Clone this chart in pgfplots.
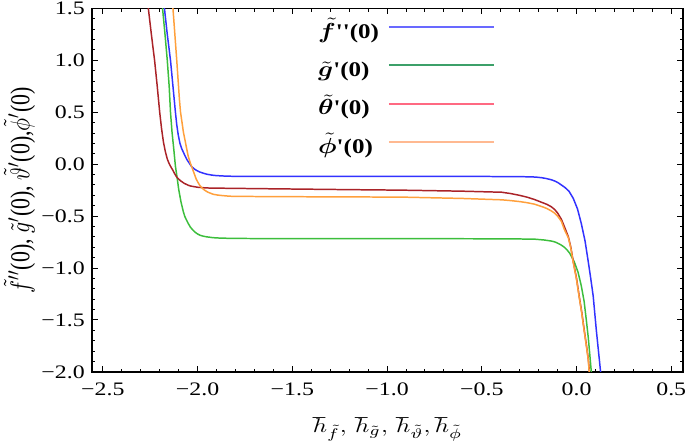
\documentclass[border=0pt]{standalone}
\usepackage{pgfplots}
\pgfplotsset{compat=1.18}
\usepackage{graphicx}
\usepackage{fontspec}
\setmainfont{Liberation Serif}
\usepackage{bm}
\definecolor{cblue}{RGB}{50,50,255}
\definecolor{cgreen}{RGB}{60,190,60}
\definecolor{cred}{RGB}{170,35,40}
\definecolor{corange}{RGB}{255,160,60}
\definecolor{lblue}{RGB}{105,105,255}
\definecolor{lgreen}{RGB}{60,160,105}
\definecolor{lred}{RGB}{255,105,130}
\definecolor{lorange}{RGB}{255,185,145}
\newcommand{\sx}[1]{\scalebox{1.25}[1]{#1}}
\newcommand{\slg}[1]{\scalebox{1.2}[1]{#1}}
\begin{document}
\begin{tikzpicture}
\begin{axis}[
  scale only axis, width=297.5pt, height=183pt,
  xmin=-2.557, xmax=0.562, ymin=-2, ymax=1.5,
  xtick={-2.5,-2,-1.5,-1,-0.5,0,0.5},
  xticklabels={\sx{−2.5},\sx{−2.0},\sx{−1.5},\sx{−1.0},\sx{−0.5},\sx{0.0},\sx{0.5}},
  ytick={-2,-1.5,-1,-0.5,0,0.5,1,1.5},
  yticklabels={\sx{−2.0},\sx{−1.5},\sx{−1.0},\sx{−0.5},\sx{0.0},\sx{0.5},\sx{1.0},\sx{1.5}},
  minor tick num=4,
  xtick pos=both, ytick pos=both,
  xticklabel pos=bottom, yticklabel pos=left,
  tick align=inside,
  major tick length=3pt, minor tick length=1.6pt,
  tick style={black, line width=0.5pt},
  axis line style={black, line width=0.6pt},
  tick label style={font=\fontsize{9.6}{10}\selectfont},
  xticklabel style={yshift=-2pt},
  yticklabel style={inner sep=1pt, xshift=-2.5pt},
  xlabel={\scalebox{1.25}[1]{$\hbar_{\tilde{f}},\, \hbar_{\tilde{g}},\, \hbar_{\tilde{\vartheta}},\hbar_{\tilde{\phi}}$}},
  ylabel={\scalebox{1}[1.25]{$\tilde{f}''$(0), $\tilde{g}'$(0), $\tilde{\vartheta}'$(0),$\tilde{\phi}'$(0)}},
  xlabel style={font=\fontsize{10}{11}\selectfont, yshift=-4pt},
  ylabel style={font=\fontsize{11}{12}\selectfont, inner sep=2pt},
  every axis plot/.append style={line join=round},
  legend image code/.code={\draw[#1] (0pt,2pt) -- (53pt,2pt);},
  legend plot pos=right,
  legend style={at={(axis cs:-1.39,1.457)}, anchor=north west, draw=none, fill=none,
    inner sep=0pt, outer sep=0pt,
    font=\fontsize{10.5}{12}\selectfont\bfseries, row sep=0.7pt, column sep=2pt,
    nodes={text height=10.5pt, text depth=3pt, inner sep=2.5pt},
    cells={anchor=west}},
]
\addlegendimage{color=lblue, line width=1pt}
\addlegendentry{\slg{$\bm{\tilde{f}}$\textquotesingle\textquotesingle(0)}}
\addlegendimage{color=lgreen, line width=1pt}
\addlegendentry{\slg{$\bm{\tilde{g}}$\textquotesingle(0)}}
\addlegendimage{color=lred, line width=1pt}
\addlegendentry{\slg{$\bm{\tilde{\theta}}$\textquotesingle(0)}}
\addlegendimage{color=lorange, line width=1pt}
\addlegendentry{\slg{$\bm{\tilde{\phi}}$\textquotesingle(0)}}

% f''(0)
\addplot[cblue, line width=0.75pt, forget plot] coordinates {
(-2.181,1.6) (-2.175,1.5) (-2.160,1.25) (-2.143,1.0) (-2.130,0.75) (-2.117,0.5)
(-2.110,0.38) (-2.102,0.28) (-2.093,0.2) (-2.084,0.15) (-2.075,0.115) (-2.065,0.075)
(-2.055,0.04) (-2.044,0.01) (-2.033,-0.02) (-2.021,-0.04)
(-2.010,-0.055) (-1.998,-0.067) (-1.986,-0.077) (-1.968,-0.088) (-1.95,-0.097)
(-1.925,-0.105) (-1.90,-0.110) (-1.85,-0.115) (-1.80,-0.117)
(-1.5,-0.118) (-1.0,-0.118) (-0.5,-0.118) (-0.30,-0.120) (-0.237,-0.122)
(-0.21,-0.125) (-0.185,-0.13) (-0.16,-0.138) (-0.133,-0.15) (-0.115,-0.162)
(-0.10,-0.175) (-0.08,-0.20) (-0.06,-0.226) (-0.04,-0.26) (-0.017,-0.33)
(0.005,-0.43) (0.025,-0.57) (0.045,-0.74) (0.062,-0.94) (0.075,-1.10)
(0.088,-1.27) (0.104,-1.59) (0.120,-1.875) (0.127,-2.0) (0.135,-2.15)
};
% g'(0)
\addplot[cgreen, line width=0.75pt, forget plot] coordinates {
(-2.190,1.6) (-2.185,1.5) (-2.172,1.25) (-2.160,1.0) (-2.150,0.75) (-2.143,0.5)
(-2.135,0.31) (-2.126,0.15) (-2.117,-0.02) (-2.108,-0.13) (-2.100,-0.24)
(-2.088,-0.36) (-2.075,-0.46) (-2.067,-0.505) (-2.058,-0.54) (-2.048,-0.575)
(-2.038,-0.606) (-2.026,-0.632) (-2.013,-0.655) (-2.0,-0.672)
(-1.986,-0.685) (-1.968,-0.694) (-1.95,-0.700) (-1.925,-0.706) (-1.90,-0.710)
(-1.85,-0.713) (-1.80,-0.715) (-1.5,-0.717)
(-1.0,-0.717) (-0.5,-0.718) (-0.30,-0.720) (-0.22,-0.722) (-0.17,-0.73)
(-0.133,-0.74) (-0.115,-0.748) (-0.10,-0.76) (-0.082,-0.777) (-0.064,-0.80)
(-0.05,-0.825) (-0.035,-0.86) (-0.012,-0.94)
(0.008,-1.04) (0.025,-1.17) (0.040,-1.32) (0.051,-1.49) (0.062,-1.67)
(0.072,-1.875) (0.078,-2.0) (0.085,-2.15)
};
% theta'(0)
\addplot[cred, line width=0.75pt, forget plot] coordinates {
(-2.267,1.6) (-2.260,1.5) (-2.244,1.25) (-2.227,1.0) (-2.213,0.75) (-2.200,0.5)
(-2.190,0.34) (-2.180,0.21) (-2.170,0.12) (-2.160,0.05) (-2.150,0.005)
(-2.143,-0.02) (-2.130,-0.06) (-2.120,-0.095) (-2.110,-0.125) (-2.090,-0.16)
(-2.070,-0.185) (-2.050,-0.202) (-2.038,-0.21) (-2.0,-0.222) (-1.96,-0.228)
(-1.93,-0.23) (-1.7,-0.235) (-1.2,-0.245) (-0.92,-0.25) (-0.6,-0.26) (-0.395,-0.27)
(-0.35,-0.282) (-0.30,-0.30) (-0.26,-0.318) (-0.222,-0.34) (-0.18,-0.37)
(-0.155,-0.388) (-0.133,-0.41) (-0.115,-0.437) (-0.10,-0.47)
(-0.08,-0.53) (-0.06,-0.62) (-0.043,-0.70) (-0.030,-0.80) (-0.017,-0.94)
(0.000,-1.10) (0.014,-1.27) (0.028,-1.43) (0.040,-1.59) (0.052,-1.74)
(0.062,-1.875) (0.068,-2.0) (0.075,-2.15)
};
% phi'(0)
\addplot[corange, line width=0.75pt, forget plot] coordinates {
(-2.134,1.6) (-2.130,1.5) (-2.120,1.25) (-2.110,1.0) (-2.096,0.625) (-2.090,0.5)
(-2.082,0.40) (-2.075,0.31) (-2.062,0.19) (-2.050,0.08) (-2.039,0.015) (-2.028,-0.04)
(-2.017,-0.095) (-2.007,-0.145) (-1.998,-0.175)
(-1.99,-0.20) (-1.98,-0.222) (-1.97,-0.24) (-1.958,-0.256) (-1.945,-0.27)
(-1.93,-0.281) (-1.917,-0.29) (-1.895,-0.297) (-1.87,-0.302)
(-1.84,-0.307) (-1.81,-0.31) (-1.5,-0.313) (-0.92,-0.317) (-0.6,-0.33) (-0.395,-0.343)
(-0.35,-0.35) (-0.30,-0.36) (-0.26,-0.371) (-0.222,-0.385) (-0.18,-0.41)
(-0.155,-0.428) (-0.133,-0.45) (-0.115,-0.472) (-0.10,-0.50)
(-0.08,-0.55) (-0.064,-0.63) (-0.043,-0.71) (-0.030,-0.81) (-0.017,-0.95)
(0.000,-1.11) (0.014,-1.28) (0.028,-1.44) (0.040,-1.60) (0.052,-1.75)
(0.062,-1.885) (0.067,-2.0) (0.074,-2.15)
};
\end{axis}
\pgfresetboundingbox
\path (current axis.outer south west) rectangle (current axis.outer north east -| current axis.east);
\path ([xshift=1pt]current axis.east);
\end{tikzpicture}
\end{document}
